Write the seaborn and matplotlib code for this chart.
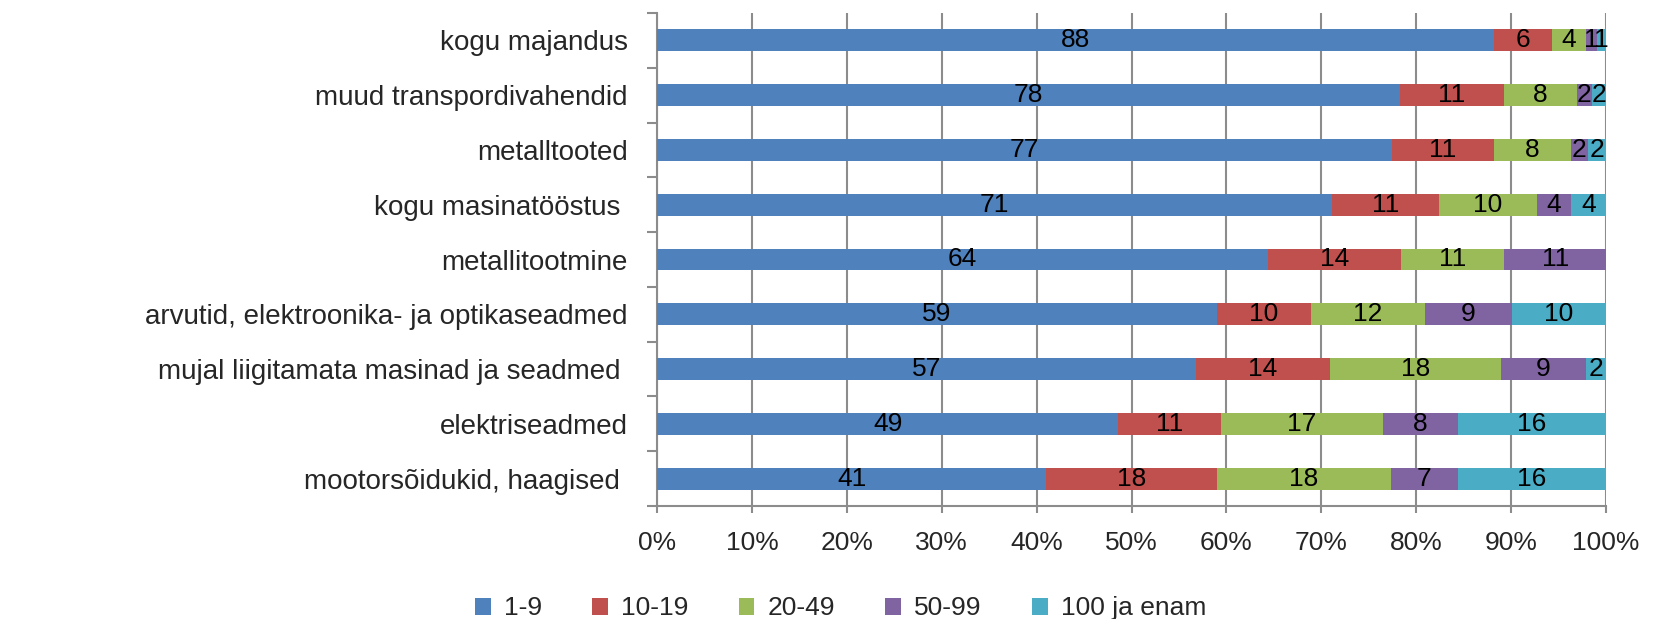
import numpy as np
import pandas as pd
import matplotlib
matplotlib.use("Agg")
import matplotlib.pyplot as plt
import seaborn as sns
from matplotlib.patches import Patch
from matplotlib.ticker import FixedLocator, PercentFormatter

categories = [
    "kogu majandus",
    "muud transpordivahendid",
    "metalltooted",
    "kogu masinatööstus ",
    "metallitootmine",
    "arvutid, elektroonika- ja optikaseadmed",
    "mujal liigitamata masinad ja seadmed ",
    "elektriseadmed",
    "mootorsõidukid, haagised ",
]
series_names = ["1-9", "10-19", "20-49", "50-99", "100 ja enam"]

s_1_9 = [88.2, 78.3, 77.4, 71.1, 64.4, 59.0, 56.8, 48.6, 41.0]
s_10_19 = [6.1, 10.9, 10.8, 11.3, 14.0, 9.9, 14.1, 10.8, 18.0]
s_20_49 = [3.6, 7.7, 8.1, 10.3, 10.9, 12.0, 18.0, 17.1, 18.3]
s_50_99 = [1.1, 1.6, 1.8, 3.6, 10.7, 9.2, 9.0, 7.9, 7.1]
s_100 = [1.0, 1.6, 1.9, 3.7, 0.0, 9.9, 2.1, 15.6, 15.6]

colors = ["#4F81BD", "#C0504D", "#9BBB59", "#8064A2", "#4BACC6"]

series = [s_1_9, s_10_19, s_20_49, s_50_99, s_100]
vals = np.array(series)  # shape (5, 9)
cum = np.cumsum(vals, axis=0)

sns.set_theme(style="white")
plt.rcParams["font.family"] = ["Liberation Sans", "DejaVu Sans"]

FS = 19
W, H = 1658, 619
fig = plt.figure(figsize=(W / 100, H / 100), dpi=100)
ax = fig.add_axes([657 / W, 1 - 506 / H, (1606 - 657) / W, (506 - 13) / H])

# draw cumulative layers, largest first
for i in range(len(series) - 1, -1, -1):
    df = pd.DataFrame({"cat": categories, "val": cum[i]})
    sns.barplot(data=df, x="val", y="cat", order=categories, orient="h",
                color=colors[i], saturation=1, width=0.4, ax=ax,
                linewidth=0, zorder=3)

# data labels
for i in range(len(series)):
    left = cum[i] - vals[i]
    for j, v in enumerate(vals[i]):
        if v <= 0:
            continue
        ax.text(left[j] + v / 2, j, f"{int(round(v))}", ha="center", va="center",
                fontsize=FS, color="black", zorder=5)

ax.set_xlim(0, 100)
ax.set_ylim(len(categories) - 0.5, -0.5)
ax.set_xticks(np.arange(0, 101, 10))
ax.xaxis.set_major_formatter(PercentFormatter(decimals=0))
ax.set_xlabel("")
ax.set_ylabel("")

gridc = "#8C8C8C"
ax.grid(axis="x", color=gridc, linewidth=1.5, zorder=0)
ax.grid(axis="y", visible=False)
ax.set_axisbelow(True)
for s in ["top", "right"]:
    ax.spines[s].set_visible(False)
for s in ["left", "bottom"]:
    ax.spines[s].set_color(gridc)
    ax.spines[s].set_linewidth(1.5)

ax.tick_params(axis="x", which="major", length=5, width=1.5, color=gridc,
               labelsize=FS, pad=13, bottom=True)
ax.tick_params(axis="y", which="major", length=0, labelsize=20, pad=21, left=True)
ax.yaxis.set_minor_locator(FixedLocator(np.arange(-0.5, len(categories), 1)))
ax.tick_params(axis="y", which="minor", length=7, width=1.5, color=gridc, left=True)

handles = [Patch(facecolor=c, edgecolor="none", label=n) for c, n in zip(colors, series_names)]
fig.legend(handles=handles, loc="center", bbox_to_anchor=(0.507, 0.017), ncol=5,
           frameon=False, fontsize=FS, handlelength=0.6, handleheight=0.6,
           handletextpad=0.5, columnspacing=1.9)

fig.savefig("out.png", dpi=100)
